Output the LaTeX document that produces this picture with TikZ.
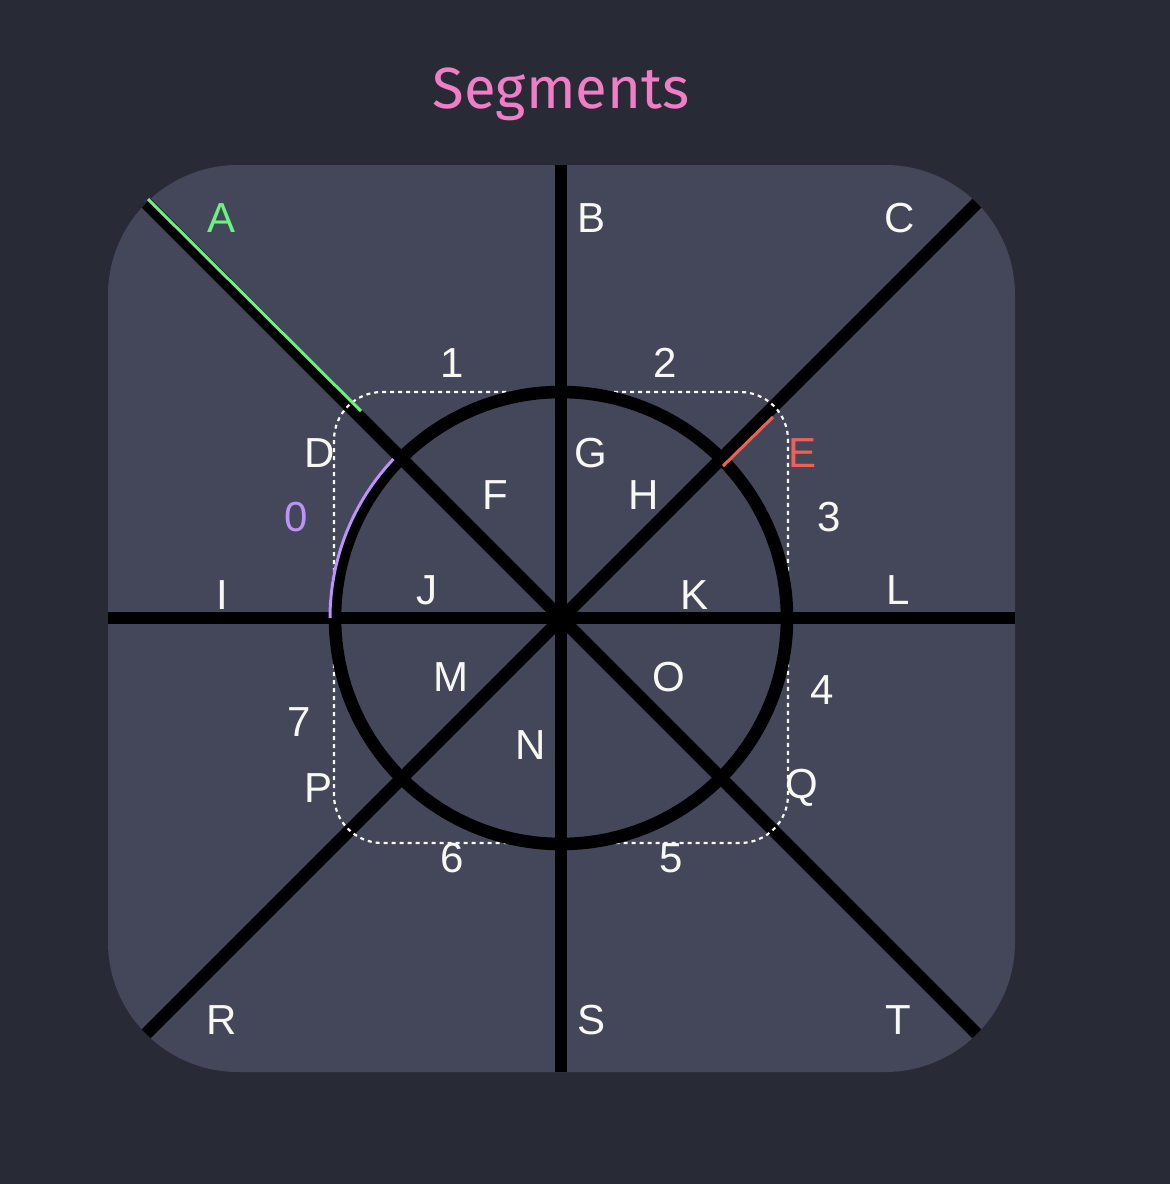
\documentclass[tikz,border=0pt]{standalone}
\usepackage{fontspec}
\setmainfont{Liberation Sans}
\newfontfamily\titlefont{Fira Sans}
\definecolor{bgc}{HTML}{282A36}
\definecolor{panel}{HTML}{44475A}
\definecolor{lbl}{HTML}{F8F8F2}
\definecolor{grn}{HTML}{6EF27E}
\definecolor{redc}{HTML}{EE6255}
\definecolor{purp}{HTML}{BD93F9}
\definecolor{pink}{HTML}{F07EC6}
\begin{document}
\begin{tikzpicture}[x={(0.5pt,0)},y={(0,-0.5pt)},
  lab/.style={text=lbl,font=\fontsize{21}{21}\selectfont,inner sep=0pt,anchor=center},
  thick line/.style={draw=black,line width=6.3pt},
  seg box/.style={draw=lbl,line width=1.1pt,dash pattern=on 2pt off 2pt,rounded corners=24pt}]
\useasboundingbox[fill=bgc] (0,0) rectangle (1170,1184);
\node[font=\titlefont\fontsize{29}{29}\selectfont,text=pink,anchor=base,inner sep=0pt] (title) at (561,108) {Segments};
\coordinate (ctr) at (561,618);
\path[fill=panel,rounded corners=65pt] (108,165) rectangle (1015,1072);
\begin{scope}
\clip[rounded corners=65pt] (108,165) rectangle (1015,1072);
\draw[thick line] (108,165) -- (1015,1072);
\draw[thick line] (1015,165) -- (108,1072);
\draw[thick line] (108,618) -- (1015,618);
\draw[thick line] (561,165) -- (561,1072);
\end{scope}
\path[seg box] (334,392) rectangle (788,843);
\draw[black,line width=6.3pt] (ctr) circle[radius=226];
% coloured overlays
\coordinate (a1) at (148,199);
\coordinate (a2) at (361,411);
\draw[grn,line width=1.5pt] (a1) -- (a2);
\coordinate (e1) at (723,466);
\coordinate (e2) at (773,417);
\draw[redc,line width=1.5pt] (e1) -- (e2);
\coordinate (o1) at (330,618);
\draw[purp,line width=1.5pt] (o1) arc[start angle=180,end angle=223.5,radius=231];
% labels
\node[lab,text=grn] (A) at (222,218) {A};
\node[lab] (B) at (592,218) {B};
\node[lab] (C) at (900,218) {C};
\node[lab] (n1) at (452,363) {1};
\node[lab] (n2) at (665,363) {2};
\node[lab] (D) at (320,453) {D};
\node[lab,text=redc] (E) at (802,453) {E};
\node[lab] (G) at (591,453) {G};
\node[lab] (F) at (495,495) {F};
\node[lab] (H) at (644,495) {H};
\node[lab,text=purp] (n0) at (296,517) {0};
\node[lab] (n3) at (829,517) {3};
\node[lab] (I) at (222,595) {I};
\node[lab] (J) at (427,590) {J};
\node[lab] (K) at (694,595) {K};
\node[lab] (L) at (898,590) {L};
\node[lab] (M) at (451,677) {M};
\node[lab] (O) at (669,677) {O};
\node[lab] (n4) at (822,690) {4};
\node[lab] (n7) at (299,722) {7};
\node[lab] (N) at (531,745) {N};
\node[lab] (P) at (319,788) {P};
\node[lab] (Q) at (802,788) {Q};
\node[lab] (n6) at (452,858) {6};
\node[lab] (n5) at (671,858) {5};
\node[lab] (R) at (222,1020) {R};
\node[lab] (S) at (592,1020) {S};
\node[lab] (T) at (898,1020) {T};
\end{tikzpicture}
\end{document}
